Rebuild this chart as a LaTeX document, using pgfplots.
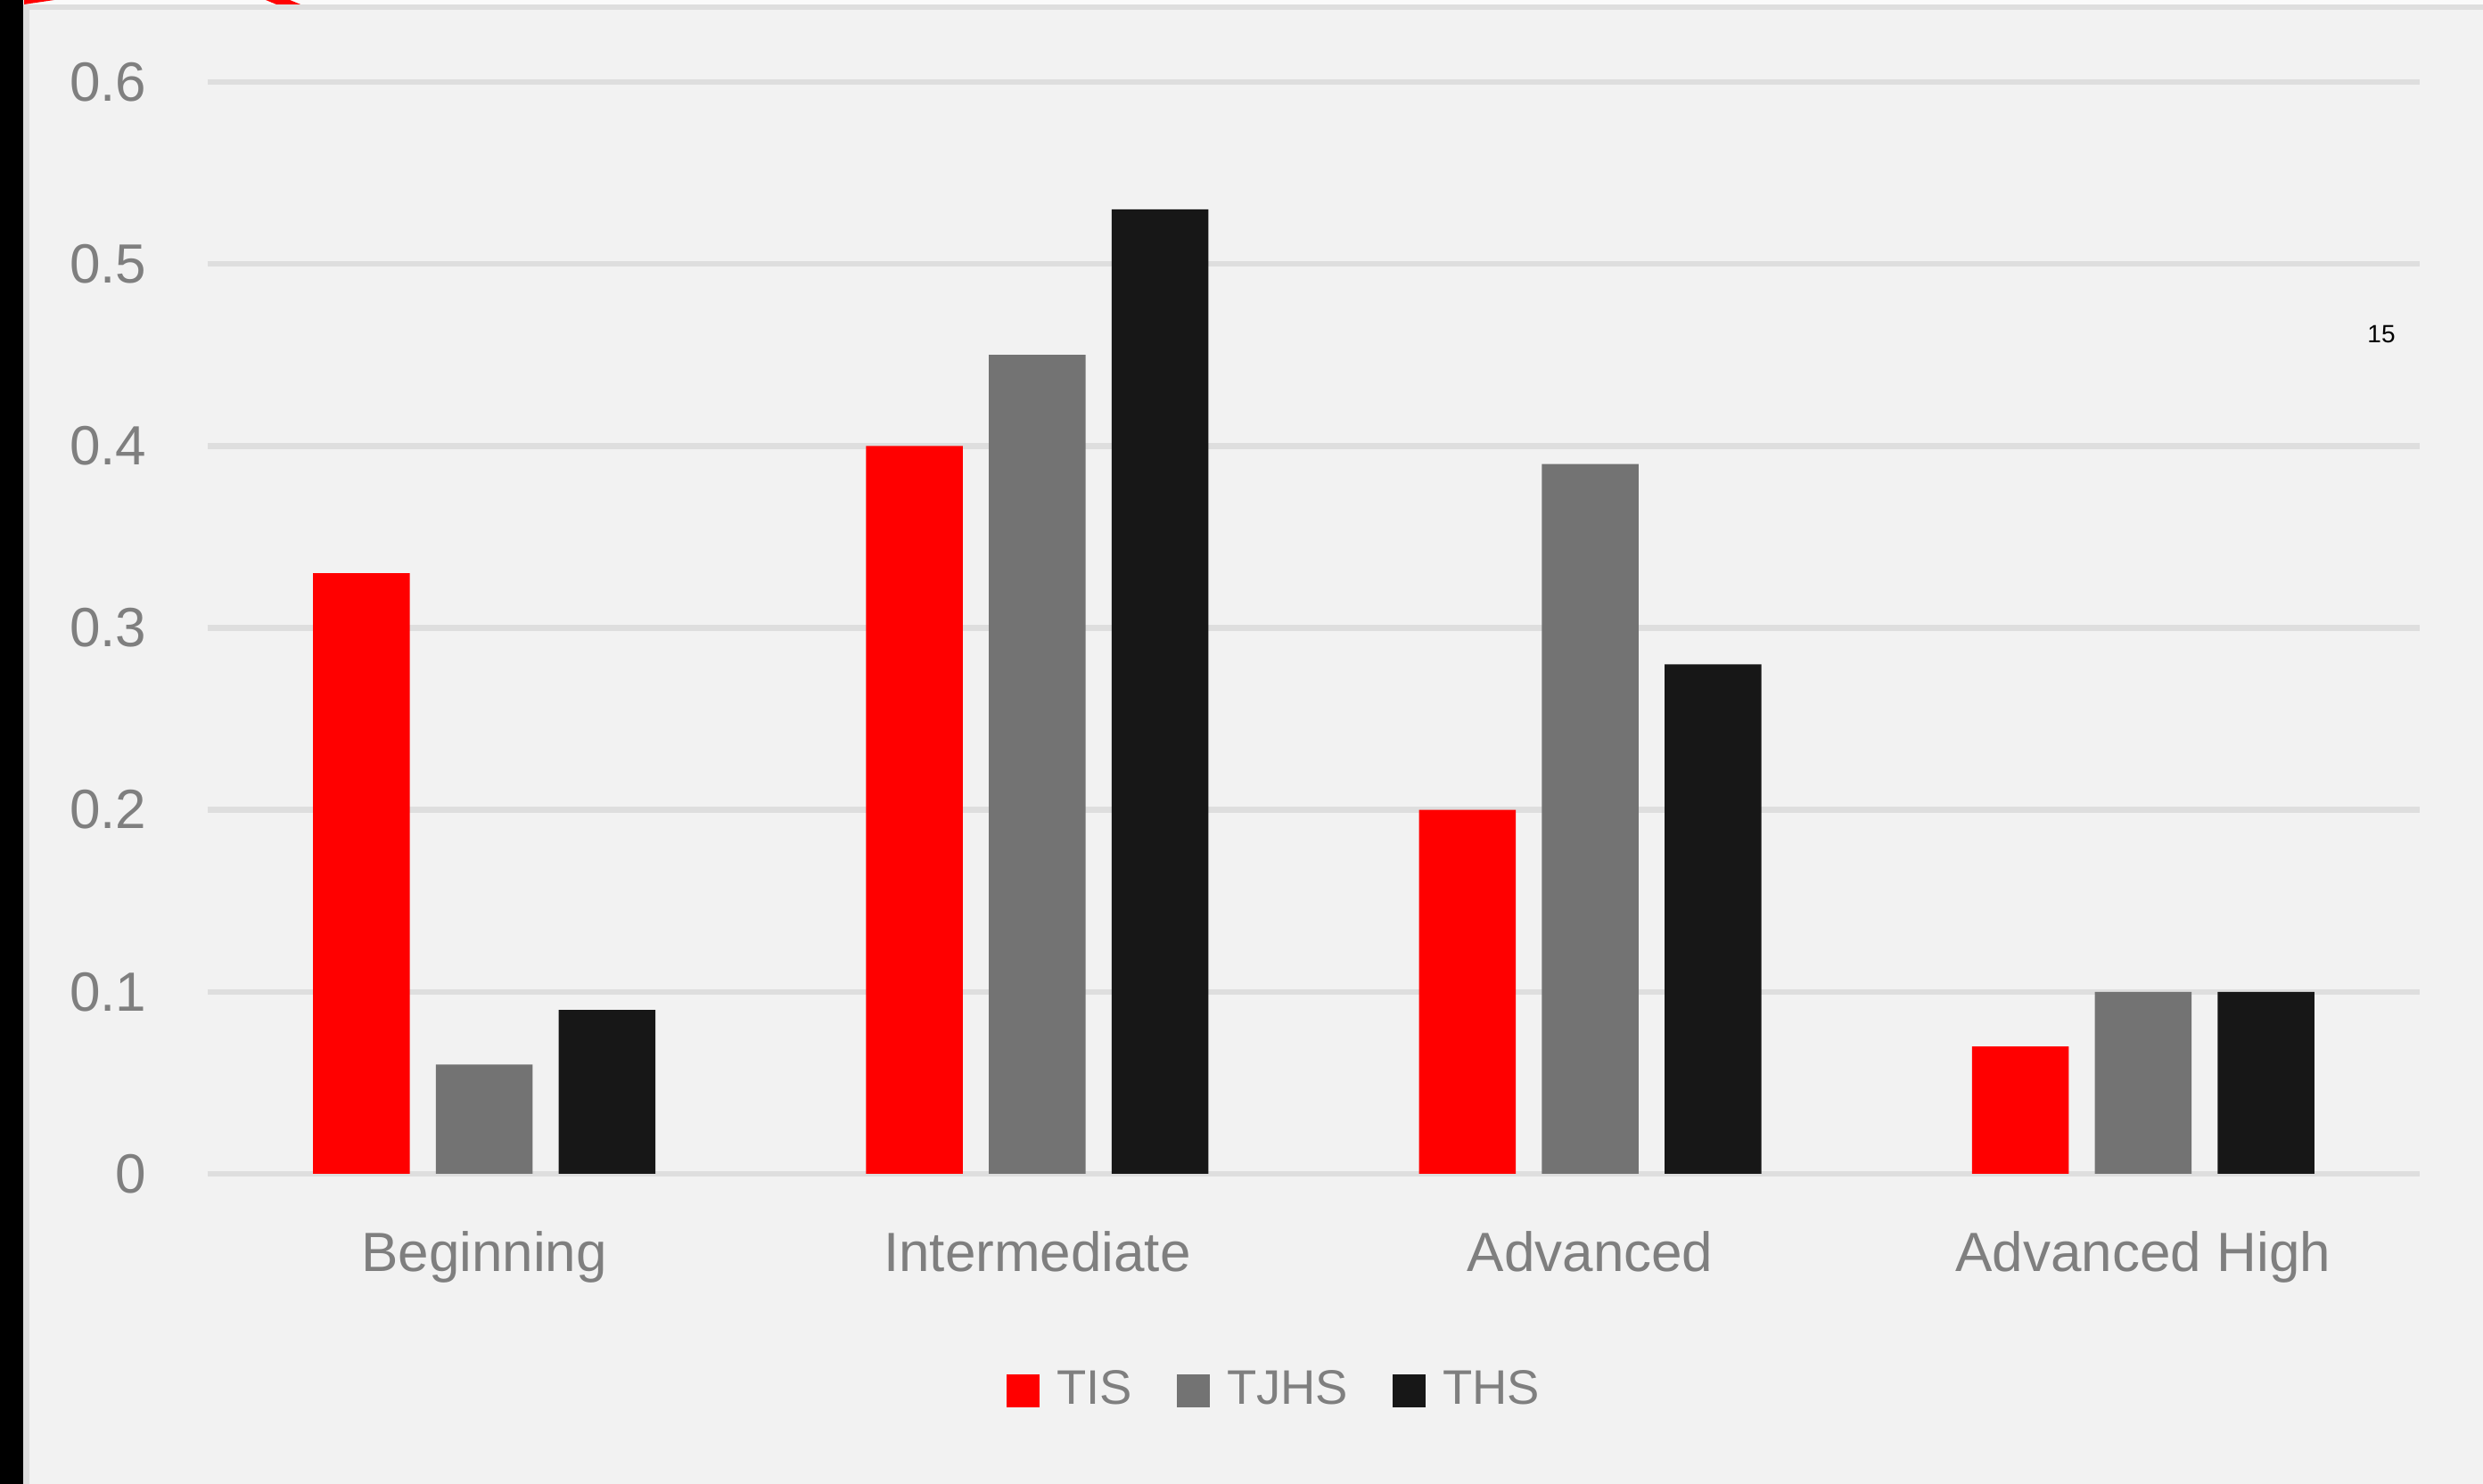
\documentclass[border=0pt]{standalone}
\usepackage{fontspec}
\setmainfont{Liberation Sans}
\usepackage{pgfplots}
\pgfplotsset{compat=1.18}
\definecolor{bg}{HTML}{F2F2F2}
\definecolor{gridc}{HTML}{DEDEDE}
\definecolor{txt}{HTML}{7F7F7F}
\definecolor{topw}{HTML}{FAFAFA}
\definecolor{cTIS}{HTML}{FF0000}
\definecolor{cTJHS}{HTML}{737373}
\definecolor{cTHS}{HTML}{171717}
\begin{document}
\begin{tikzpicture}
\useasboundingbox (0,0) rectangle (696.25pt,416.25pt);
\fill[bg] (0,0) rectangle (696.25pt,416.25pt);
\fill[topw] (0,415pt) rectangle (696.25pt,416.25pt);
\fill[gridc] (6.5pt,413.5pt) rectangle (696.25pt,415pt);
\fill[gridc] (6.5pt,0) rectangle (8.2pt,415pt);
\fill[black] (0,0) rectangle (6.5pt,416.25pt);
\fill[cTIS] (6.75pt,416.25pt) -- (15.25pt,416.25pt) -- (6.75pt,415pt) -- cycle;
\fill[cTIS] (74.5pt,416.25pt) -- (81.25pt,416.25pt) -- (84.25pt,415pt) -- (77.5pt,415pt) -- cycle;
\node[font=\fontsize{7}{8}\selectfont, text=black] at (667.75pt,322.5pt) {15};
\begin{axis}[
  at={(58.25pt,87pt)}, anchor=south west,
  scale only axis, width=620.25pt, height=306.25pt,
  xmin=-0.5, xmax=3.5, ymin=0, ymax=0.6,
  ybar, bar width=0.175,
  xtick={0,1,2,3},
  xticklabels={Beginning,Intermediate,Advanced,Advanced High},
  ytick={0,0.1,0.2,0.3,0.4,0.5,0.6},
  yticklabels={0,0.1,0.2,0.3,0.4,0.5,0.6},
  ymajorgrids, xmajorgrids=false,
  grid style={gridc, line width=1.6pt},
  axis line style={draw=none},
  major tick length=0pt,
  /pgf/number format/assume math mode=true,
  tick label style={font=\fontsize{15.5}{18}\selectfont, text=txt},
  yticklabel style={anchor=east, inner sep=0pt, xshift=-17pt},
  xticklabel style={anchor=base, inner sep=0pt, yshift=-27.5pt},
  legend columns=3,
  legend image code/.code={\fill[#1] (0pt,-4.625pt) rectangle (9.25pt,4.625pt);},
  legend style={at={(0.4817,-0.1984)}, anchor=center, draw=none, fill=none,
    font=\fontsize{13.6}{16}\selectfont, text=txt, inner sep=0pt,
    nodes={inner sep=0pt},
    /tikz/every odd column/.append style={column sep=4.75pt},
    /tikz/every even column/.append style={column sep=12.5pt}},
]
\addplot[fill=cTIS, draw=none, bar shift=-0.222] coordinates {(0,0.33) (1,0.40) (2,0.20) (3,0.07)};
\addplot[fill=cTJHS, draw=none, bar shift=0] coordinates {(0,0.06) (1,0.45) (2,0.39) (3,0.10)};
\addplot[fill=cTHS, draw=none, bar shift=0.222] coordinates {(0,0.09) (1,0.53) (2,0.28) (3,0.10)};
\legend{TIS,TJHS,THS}
\end{axis}
\end{tikzpicture}
\end{document}
